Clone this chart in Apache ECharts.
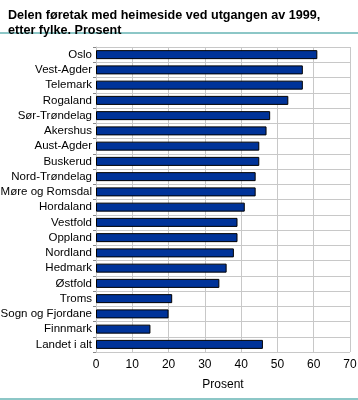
<!DOCTYPE html>
<html><head><meta charset="utf-8">
<script src="https://cdn.jsdelivr.net/npm/echarts@6/dist/echarts.min.js"></script>
<style>html,body{margin:0;padding:0;background:#fff}#c{width:358px;height:400px}</style>
</head><body><div id="c"></div>
<script>
const categories = ["Oslo","Vest-Agder","Telemark","Rogaland","Sør-Trøndelag","Akershus","Aust-Agder","Buskerud","Nord-Trøndelag","Møre og Romsdal","Hordaland","Vestfold","Oppland","Nordland","Hedmark","Østfold","Troms","Sogn og Fjordane","Finnmark","Landet i alt"];
const values = [61,57,57,53,48,47,45,45,44,44,41,39,39,38,36,34,21,20,15,46];
const xTicks = [0,10,20,30,40,50,60,70];
const titleText = "Delen føretak med heimeside ved utgangen av 1999,\netter fylke. Prosent";
const xName = "Prosent";

const chart = echarts.init(document.getElementById('c'), null, {renderer:'canvas'});
const font = "'Liberation Sans', Arial, sans-serif";
chart.setOption({
  animation:false,
  title:{text:titleText,left:3,top:3,textStyle:{fontFamily:font,fontSize:12.6,fontWeight:'bold',color:'#000',lineHeight:15}},
  graphic:[
    {type:'line',shape:{x1:0,y1:33,x2:358,y2:33},style:{stroke:'#1b8f8f',lineWidth:1}},
    {type:'line',shape:{x1:0,y1:399,x2:358,y2:399},style:{stroke:'#1b8f8f',lineWidth:1}}
  ],
  grid:{left:96,right:8,top:47,bottom:48,outerBoundsMode:'none',containLabel:false},
  xAxis:{type:'value',min:0,max:70,interval:10,
    name:xName,nameLocation:'middle',nameGap:27,
    nameTextStyle:{fontFamily:font,fontSize:12,color:'#000'},
    axisLine:{show:false},axisTick:{show:false},
    axisLabel:{fontFamily:font,fontSize:12,color:'#000',margin:7,formatter:v=>xTicks.includes(v)?String(v):''},
    splitLine:{show:true,lineStyle:{color:'#c8c8c8',width:1}}},
  yAxis:{type:'category',data:categories,inverse:true,
    axisLine:{show:true,lineStyle:{color:'#c8c8c8'}},
    axisTick:{show:true,length:3,lineStyle:{color:'#888'}},
    axisLabel:{fontFamily:font,fontSize:11.5,color:'#000',margin:4,interval:0},
    splitLine:{show:true,lineStyle:{color:'#c8c8c8',width:1}}},
  series:[{type:'bar',data:values,barWidth:9,
    itemStyle:{color:'#003399',borderColor:'#000',borderWidth:1}}]
});
</script></body></html>
